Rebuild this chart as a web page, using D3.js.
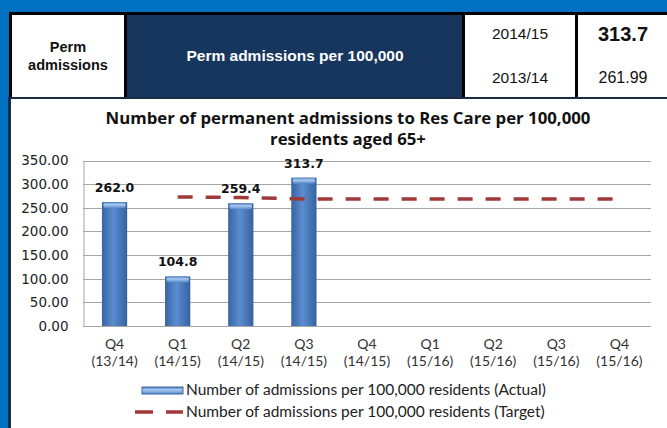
<!DOCTYPE html>
<html>
<head>
<meta charset="utf-8">
<script src="https://cdn.jsdelivr.net/npm/d3@7"></script>
<style>
  html, body { margin: 0; padding: 0; background: #0070C0; }
  svg { display: block; }
</style>
</head>
<body>
<div id="chart"></div>
<script>
// chart data
var quarters = ["Q4", "Q1", "Q2", "Q3", "Q4", "Q1", "Q2", "Q3", "Q4"];
var years = ["(13/14)", "(14/15)", "(14/15)", "(14/15)", "(14/15)", "(15/16)", "(15/16)", "(15/16)", "(15/16)"];
var actual = [262.0, 104.8, 259.4, 313.7, null, null, null, null, null];
var target = [null, 272.8, 271.8, 268.6, 268.6, 268.6, 268.6, 268.6, 268.6];
var yTicks = [0, 50, 100, 150, 200, 250, 300, 350];
var legendLabels = ["Number of admissions per 100,000 residents (Actual)",
                    "Number of admissions per 100,000 residents (Target)"];

var svgWidth = 667;
var svgHeight = 428;

var svg = d3.select("#chart")
  .append("svg")
  .attr("width", svgWidth)
  .attr("height", svgHeight);

var defs = svg.append("defs");

var barGrad = defs.append("linearGradient")
  .attr("id", "barGrad")
  .attr("x1", "0%").attr("x2", "100%").attr("y1", "0%").attr("y2", "0%");
barGrad.append("stop").attr("offset", "0%").attr("stop-color", "#3764a3");
barGrad.append("stop").attr("offset", "45%").attr("stop-color", "#5a8dd0");
barGrad.append("stop").attr("offset", "100%").attr("stop-color", "#36629e");

var capGrad = defs.append("linearGradient")
  .attr("id", "capGrad")
  .attr("x1", "0%").attr("x2", "0%").attr("y1", "0%").attr("y2", "100%");
capGrad.append("stop").attr("offset", "0%").attr("stop-color", "#4a7dbe");
capGrad.append("stop").attr("offset", "40%").attr("stop-color", "#a8c9f0");
capGrad.append("stop").attr("offset", "100%").attr("stop-color", "#5589cb");

// blue page background
svg.append("rect")
  .attr("width", svgWidth).attr("height", svgHeight)
  .attr("fill", "#0070C0");

// header table
svg.append("rect")
  .attr("x", 9).attr("y", 12).attr("width", 658).attr("height", 86)
  .attr("fill", "#000");

var cells = [
  { x: 12, w: 112, fill: "#ffffff" },
  { x: 127, w: 335, fill: "#17365D" },
  { x: 465, w: 110, fill: "#ffffff" },
  { x: 578, w: 89, fill: "#ffffff" }
];
svg.selectAll(".cell")
  .data(cells)
  .enter().append("rect")
  .attr("x", d => d.x).attr("y", 15)
  .attr("width", d => d.w).attr("height", 82)
  .attr("fill", d => d.fill);

var tableText = svg.append("g")
  .attr("font-family", "'Liberation Sans', Arial, sans-serif")
  .attr("text-anchor", "middle");

tableText.append("text").attr("x", 68).attr("y", 52)
  .attr("font-size", 14.5).attr("font-weight", "bold").attr("fill", "#111").text("Perm");
tableText.append("text").attr("x", 68).attr("y", 70)
  .attr("font-size", 14.5).attr("font-weight", "bold").attr("fill", "#111").text("admissions");
tableText.append("text").attr("x", 295).attr("y", 61)
  .attr("font-size", 15.5).attr("font-weight", "bold").attr("fill", "#fff").text("Perm admissions per 100,000");
tableText.append("text").attr("x", 520).attr("y", 39)
  .attr("font-size", 15.5).attr("fill", "#111").text("2014/15");
tableText.append("text").attr("x", 520).attr("y", 83)
  .attr("font-size", 15.5).attr("fill", "#111").text("2013/14");
tableText.append("text").attr("x", 623).attr("y", 41)
  .attr("font-size", 20).attr("font-weight", "bold").attr("fill", "#111").text("313.7");
tableText.append("text").attr("x", 623).attr("y", 83)
  .attr("font-size", 16).attr("fill", "#111").text("261.99");

// chart panel
svg.append("rect")
  .attr("x", 8).attr("y", 97).attr("width", 659).attr("height", 331)
  .attr("fill", "#1b2c45");
svg.append("rect")
  .attr("x", 11).attr("y", 99).attr("width", 656).attr("height", 329)
  .attr("fill", "#ffffff");

// title
var title = svg.append("text")
  .attr("text-anchor", "middle")
  .attr("font-family", "'Open Sans', Lato, sans-serif")
  .attr("font-weight", "bold")
  .attr("font-size", 16.8)
  .attr("fill", "#111");
title.append("tspan").attr("x", 348).attr("y", 124)
  .text("Number of permanent admissions  to Res Care per 100,000");
title.append("tspan").attr("x", 348).attr("y", 145)
  .text("residents aged 65+");

// scales
var x = d3.scaleBand()
  .domain(d3.range(quarters.length))
  .range([83, 651]);

var y = d3.scaleLinear()
  .domain([0, 350])
  .range([326, 160.5]);

var barW = x.bandwidth() * 0.4;

// gridlines
svg.append("g")
  .selectAll("line")
  .data(yTicks)
  .enter().append("line")
  .attr("x1", 83).attr("x2", 651)
  .attr("y1", d => Math.round(y(d)) + 0.5)
  .attr("y2", d => Math.round(y(d)) + 0.5)
  .attr("stroke", "#a6a6a6")
  .attr("stroke-width", 1);

// y axis
var leftAxis = d3.axisLeft(y)
  .tickValues(yTicks)
  .tickFormat(d3.format(".2f"))
  .tickSize(0)
  .tickPadding(15);

var yAxisG = svg.append("g")
  .attr("transform", "translate(83.5,0)")
  .call(leftAxis);
yAxisG.select(".domain").attr("stroke", "#a6a6a6");
yAxisG.selectAll("text")
  .attr("font-family", "'DejaVu Sans', Verdana, sans-serif")
  .attr("font-size", 13.5)
  .attr("fill", "#222");

// x axis labels
var xLab = svg.append("g")
  .selectAll("text")
  .data(quarters)
  .enter().append("text")
  .attr("text-anchor", "middle")
  .attr("font-family", "Lato, 'Open Sans', sans-serif")
  .attr("font-size", 14)
  .attr("fill", "#333");
xLab.append("tspan")
  .attr("x", (d, i) => x(i) + x.bandwidth() / 2)
  .attr("y", 349)
  .text(d => d);
xLab.append("tspan")
  .attr("x", (d, i) => x(i) + x.bandwidth() / 2)
  .attr("y", 366)
  .text((d, i) => years[i]);

// bars
var barData = actual.map((v, i) => ({ i: i, v: v })).filter(d => d.v !== null);

var bars = svg.append("g");
bars.selectAll(".bar")
  .data(barData)
  .enter().append("rect")
  .attr("class", "bar")
  .attr("x", d => x(d.i) + x.bandwidth() / 2 - barW / 2)
  .attr("y", d => y(d.v))
  .attr("width", barW)
  .attr("height", d => y(0) - y(d.v))
  .attr("fill", "url(#barGrad)");
bars.selectAll(".cap")
  .data(barData)
  .enter().append("rect")
  .attr("class", "cap")
  .attr("x", d => x(d.i) + x.bandwidth() / 2 - barW / 2 + 1.5)
  .attr("y", d => y(d.v))
  .attr("width", barW - 3)
  .attr("height", 6)
  .attr("rx", 2)
  .attr("fill", "url(#capGrad)");

// data labels
svg.append("g")
  .selectAll("text")
  .data(barData)
  .enter().append("text")
  .attr("x", d => x(d.i) + x.bandwidth() / 2)
  .attr("y", d => y(d.v) - 10)
  .attr("text-anchor", "middle")
  .attr("font-family", "'DejaVu Sans', Verdana, sans-serif")
  .attr("font-weight", "bold")
  .attr("font-size", 12.5)
  .attr("fill", "#111")
  .text(d => d3.format(".1f")(d.v));

// target line
var line = d3.line()
  .defined(d => d !== null)
  .x((d, i) => x(i) + x.bandwidth() / 2)
  .y(d => y(d));

svg.append("path")
  .datum(target)
  .attr("d", line)
  .attr("fill", "none")
  .attr("stroke", "#a03a38")
  .attr("stroke-width", 3.5)
  .attr("stroke-dasharray", "15,13");

// legend
var legend = svg.append("g")
  .attr("font-family", "Lato, 'Open Sans', sans-serif")
  .attr("font-size", 15.5)
  .attr("fill", "#222");

legend.append("rect")
  .attr("x", 142).attr("y", 387).attr("width", 41).attr("height", 7)
  .attr("fill", "url(#capGrad)")
  .attr("stroke", "#3b67a2").attr("stroke-width", 1);
legend.append("line")
  .attr("x1", 135).attr("x2", 183).attr("y1", 412).attr("y2", 412)
  .attr("stroke", "#a03a38").attr("stroke-width", 3.5)
  .attr("stroke-dasharray", "18,13");

legend.selectAll("text")
  .data(legendLabels)
  .enter().append("text")
  .attr("x", 186)
  .attr("y", (d, i) => 395 + i * 22)
  .text(d => d);
</script>
</body>
</html>
